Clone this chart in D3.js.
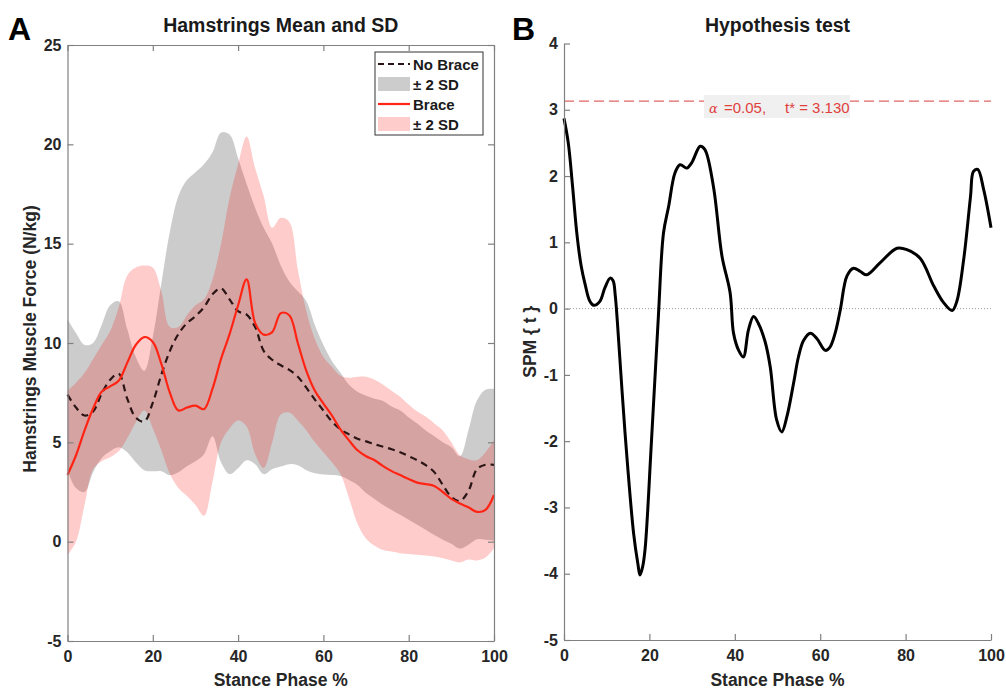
<!DOCTYPE html>
<html>
<head>
<meta charset="utf-8">
<script src="https://cdn.jsdelivr.net/npm/d3@7"></script>
<style>
  body { margin: 0; background: #fff; }
  text { font-family: Arial, "Liberation Sans", sans-serif; }
</style>
</head>
<body>
<svg id="chart" width="1006" height="690"></svg>
<script>
// stance phase grid (%) for panel A
const stance = [0, 2, 4, 6, 8, 10, 12, 14, 16, 18, 20, 22, 24, 26, 28, 30, 32, 34, 36, 38, 40,
  42, 44, 46, 48, 50, 52, 54, 56, 58, 60, 62, 64, 66, 68, 70, 72, 74, 76, 78, 80,
  82, 84, 86, 88, 90, 92, 94, 96, 98, 100];

const noBraceMean = [7.4, 6.75, 6.35, 6.55, 7.45, 8.15, 8.45, 7.2, 6.25, 6.05, 7.0, 8.4, 9.6, 10.45, 11.0, 11.35, 11.8, 12.45, 12.75, 12.2, 11.6,
  11.43, 10.8, 9.6, 9.15, 8.88, 8.65, 8.3, 7.75, 7.15, 6.6, 6.05, 5.65, 5.4, 5.18, 5.05, 4.9, 4.78, 4.65, 4.5, 4.3,
  4.1, 3.85, 3.5, 2.85, 2.25, 2.05, 2.55, 3.65, 3.87, 3.87];
const noBraceLow = [3.6, 2.7, 2.5, 3.5, 4.2, 4.55, 4.75, 4.5, 4.0, 3.6, 3.55, 3.55, 3.35, 3.5, 3.8, 4.05, 4.4, 5.3, 4.0, 3.4, 3.7,
  4.1, 3.9, 3.4, 3.65, 3.78, 3.9, 3.85, 3.6, 3.45, 3.38, 3.35, 3.3, 3.1, 2.85, 2.45, 2.15, 1.85, 1.6, 1.35, 1.1,
  0.85, 0.6, 0.33, 0.1, -0.1, -0.34, -0.15, 0.12, 0.1, 0.05];
const noBraceHigh = [11.2, 10.5, 9.9, 10.0, 10.9, 11.9, 12.1, 10.7, 9.3, 8.6, 10.3, 13.0, 15.6, 17.4, 18.2, 18.6, 19.0, 19.6, 20.6, 20.5, 19.3,
  18.0, 16.8, 15.8, 15.0, 13.9, 13.1, 12.6, 12.1, 10.9, 9.9, 9.1, 8.5, 7.9, 7.55, 7.35, 7.2, 7.08, 6.8, 6.6, 6.25,
  5.95, 5.6, 5.3, 5.0, 4.75, 4.3, 5.6, 7.1, 7.65, 7.7];

const braceMean = [3.36, 4.35, 5.6, 6.7, 7.55, 7.82, 8.1, 9.0, 9.9, 10.3, 10.05, 8.95, 7.5, 6.6, 6.75, 6.85, 6.67, 7.7, 9.2, 10.45, 11.9,
  13.2, 11.0, 10.42, 10.55, 11.5, 11.4, 10.0, 8.6, 7.6, 6.95, 6.35, 5.65, 5.1, 4.6, 4.3, 4.1, 3.8, 3.55, 3.35, 3.15,
  2.97, 2.9, 2.8, 2.5, 2.15, 1.92, 1.73, 1.5, 1.6, 2.35];
const braceLow = [-0.67, 0.0, 1.85, 3.65, 4.05, 4.25, 4.55, 5.2, 6.0, 6.6, 5.7, 4.6, 3.4, 2.7, 2.3, 1.85, 1.3, 3.0, 5.0, 5.7, 6.1,
  5.8, 4.4, 3.7, 5.0, 6.4, 6.5, 6.1, 5.6, 5.0, 4.5, 4.0, 3.4, 2.2, 0.9, 0.15, -0.2, -0.42, -0.5, -0.58, -0.62,
  -0.66, -0.7, -0.75, -0.84, -0.95, -1.05, -0.9, -0.95, -0.8, -0.35];
const braceHigh = [7.6, 8.0, 8.5, 9.2, 9.9, 10.6, 11.8, 13.4, 13.8, 13.9, 13.8, 12.6, 10.8, 10.8, 11.4, 11.9, 12.2, 13.2, 15.0, 17.3, 19.0,
  20.4, 18.8, 17.4, 15.8, 16.3, 16.1, 13.7, 11.6, 10.2, 9.3, 8.8, 8.35, 8.25, 8.3, 8.3, 8.15, 7.9, 7.6, 7.3, 6.9,
  6.55, 6.3, 5.95, 5.6, 5.0, 4.35, 4.15, 4.1, 4.5, 5.1];

// panel B: SPM{t} trajectory
const spmX = [0, 1, 2, 3, 4, 5, 6, 7, 8.4, 9.5, 10.8, 11.5, 12, 12.5, 14.3, 16.3, 17.3, 17.8, 18.4, 19,
  20.5, 22.1, 23.3, 24.5, 26, 27.2, 28.75, 29.9, 31.9, 33, 35, 37, 38.9, 39.7, 40.9, 42, 43.2, 44.4,
  45.5, 47.1, 48.3, 49.8, 51, 52.2, 53.75, 54.9, 56.1, 57.7, 59.2, 61.2, 62.3, 63.5, 64.7, 66.25,
  67.8, 69.4, 70.9, 74, 78, 80.3, 83.4, 86.6, 88.9, 90.9, 92, 93.6, 95.2, 95.9, 96.9, 98.3, 100];
const spmT = [2.87, 2.5, 1.85, 1.14, 0.65, 0.35, 0.12, 0.05, 0.11, 0.3, 0.46, 0.42, 0.2, -0.2, -1.88, -3.39, -3.85, -4.02, -3.9, -3.62,
  -1.98, -0.12, 1.14, 1.54, 2.05, 2.17, 2.12, 2.2, 2.45, 2.4, 1.84, 0.79, 0.24, -0.37, -0.63, -0.73, -0.32, -0.12,
  -0.22, -0.5, -0.88, -1.68, -1.86, -1.63, -1.13, -0.73, -0.48, -0.37, -0.45, -0.63, -0.58, -0.37, -0.02, 0.49,
  0.61, 0.56, 0.51, 0.69, 0.91, 0.89, 0.76, 0.34, 0.09, -0.03, 0.11, 0.74, 1.69, 2.07, 2.1, 1.79, 1.22];

const forceTicks = [-5, 0, 5, 10, 15, 20, 25];
const phaseTicks = [0, 20, 40, 60, 80, 100];
const spmTicks = [-5, -4, -3, -2, -1, 0, 1, 2, 3, 4];
const alphaLevel = 0.05;
const tCritical = 3.130;

const svg = d3.select('#chart');
svg.append('rect').attr('width', 1006).attr('height', 690).attr('fill', '#fff');

const axisColor = '#808080';
const labelColor = '#262626';
const plainNum = (d) => String(d); // keep ascii hyphen like the original

function styleAxis(g, showLabels) {
  g.select('.domain').attr('stroke', axisColor).attr('stroke-width', 1.2);
  g.selectAll('.tick line').attr('stroke', axisColor).attr('stroke-width', 1.2);
  g.selectAll('.tick text')
    .attr('fill', labelColor)
    .style('font-size', '16px')
    .style('font-weight', 'bold')
    .style('display', showLabels ? null : 'none');
}

// ---------- Panel A ----------
const xA = d3.scaleLinear().domain([0, 100]).range([67.5, 494]);
const yA = d3.scaleLinear().domain([-5, 25]).range([641, 45]);

const bandArea = (low, high) => d3.area()
  .x((d, i) => xA(stance[i]))
  .y0((d, i) => yA(low[i]))
  .y1((d, i) => yA(high[i]))
  .curve(d3.curveCatmullRom.alpha(0.5));

const panelA = svg.append('g');

panelA.append('path')
  .datum(stance)
  .attr('d', bandArea(noBraceLow, noBraceHigh))
  .attr('fill', '#808080')
  .attr('fill-opacity', 0.4);

panelA.append('path')
  .datum(stance)
  .attr('d', bandArea(braceLow, braceHigh))
  .attr('fill', '#ff0000')
  .attr('fill-opacity', 0.2);

const meanLine = (vals) => d3.line()
  .x((d, i) => xA(stance[i]))
  .y((d, i) => yA(vals[i]))
  .curve(d3.curveCatmullRom.alpha(0.5));

panelA.append('path')
  .datum(stance)
  .attr('d', meanLine(noBraceMean))
  .attr('fill', 'none')
  .attr('stroke', '#2a1414')
  .attr('stroke-width', 2.2)
  .attr('stroke-dasharray', '7,5');

panelA.append('path')
  .datum(stance)
  .attr('d', meanLine(braceMean))
  .attr('fill', 'none')
  .attr('stroke', '#ff2414')
  .attr('stroke-width', 2.2);

// box with inward ticks on all sides
panelA.append('g')
  .attr('transform', `translate(0,${yA(-5)})`)
  .call(d3.axisBottom(xA).tickValues(phaseTicks).tickFormat(plainNum).tickSizeInner(-6).tickSizeOuter(0).tickPadding(10))
  .call((g) => styleAxis(g, true));
panelA.append('g')
  .attr('transform', `translate(0,${yA(25)})`)
  .call(d3.axisTop(xA).tickValues(phaseTicks).tickSizeInner(-6).tickSizeOuter(0))
  .call((g) => styleAxis(g, false));
panelA.append('g')
  .attr('transform', `translate(${xA(0)},0)`)
  .call(d3.axisLeft(yA).tickValues(forceTicks).tickFormat(plainNum).tickSizeInner(-6).tickSizeOuter(0).tickPadding(6))
  .call((g) => styleAxis(g, true));
panelA.append('g')
  .attr('transform', `translate(${xA(100)},0)`)
  .call(d3.axisRight(yA).tickValues(forceTicks).tickSizeInner(-6).tickSizeOuter(0))
  .call((g) => styleAxis(g, false));

panelA.append('text')
  .text('Hamstrings Mean and SD')
  .attr('x', (xA(0) + xA(100)) / 2)
  .attr('y', 32)
  .attr('text-anchor', 'middle')
  .style('font-size', '19.5px')
  .style('font-weight', 'bold')
  .attr('fill', '#1a1a1a');

panelA.append('text')
  .text('Stance Phase %')
  .attr('x', (xA(0) + xA(100)) / 2)
  .attr('y', 686)
  .attr('text-anchor', 'middle')
  .style('font-size', '17.5px')
  .style('font-weight', 'bold')
  .attr('fill', labelColor);

panelA.append('text')
  .text('Hamstrings Muscle Force (N/kg)')
  .attr('transform', `translate(36,${(yA(-5) + yA(25)) / 2 - 4}) rotate(-90)`)
  .attr('text-anchor', 'middle')
  .style('font-size', '17.5px')
  .style('font-weight', 'bold')
  .attr('fill', labelColor);

panelA.append('text')
  .text('A')
  .attr('x', 8)
  .attr('y', 40)
  .style('font-size', '32px')
  .style('font-weight', 'bold')
  .attr('fill', '#000');

// legend
const legend = panelA.append('g');
legend.append('rect')
  .attr('x', 375).attr('y', 52).attr('width', 108).attr('height', 83)
  .attr('fill', '#fff').attr('stroke', '#333').attr('stroke-width', 1);

const legendRows = [
  { label: 'No Brace', kind: 'dash' },
  { label: '± 2 SD', kind: 'grey' },
  { label: 'Brace', kind: 'red' },
  { label: '± 2 SD', kind: 'pink' },
];
legendRows.forEach((row, i) => {
  const cy = 64 + i * 20;
  if (row.kind === 'dash') {
    legend.append('line').attr('x1', 378).attr('x2', 410).attr('y1', cy).attr('y2', cy)
      .attr('stroke', '#2a1414').attr('stroke-width', 2.2).attr('stroke-dasharray', '6,4');
  } else if (row.kind === 'red') {
    legend.append('line').attr('x1', 378).attr('x2', 410).attr('y1', cy).attr('y2', cy)
      .attr('stroke', '#ff2414').attr('stroke-width', 2.2);
  } else {
    legend.append('rect').attr('x', 378).attr('y', cy - 7).attr('width', 32).attr('height', 14)
      .attr('fill', row.kind === 'grey' ? '#808080' : '#ff0000')
      .attr('fill-opacity', row.kind === 'grey' ? 0.4 : 0.2);
  }
  legend.append('text')
    .text(row.label)
    .attr('x', 413)
    .attr('y', cy + 5.5)
    .style('font-size', '15px')
    .style('font-weight', 'bold')
    .attr('fill', '#1a1a1a');
});

// ---------- Panel B ----------
const xB = d3.scaleLinear().domain([0, 100]).range([564, 991]);
const yB = d3.scaleLinear().domain([-5, 4]).range([640, 43.5]);

const panelB = svg.append('g');

panelB.append('line')
  .attr('x1', xB(0)).attr('x2', xB(100))
  .attr('y1', yB(0)).attr('y2', yB(0))
  .attr('stroke', '#9a9a9a').attr('stroke-width', 1).attr('stroke-dasharray', '1,2');

panelB.append('line')
  .attr('x1', xB(0)).attr('x2', xB(100))
  .attr('y1', yB(tCritical)).attr('y2', yB(tCritical))
  .attr('stroke', '#e06464').attr('stroke-width', 1.2).attr('stroke-dasharray', '10,5');

panelB.append('rect')
  .attr('x', 704).attr('y', 95).attr('width', 146).attr('height', 23)
  .attr('fill', '#f0f0f0');

const thrLabel = panelB.append('text')
  .attr('y', 113)
  .attr('fill', '#e0403c')
  .style('font-size', '15px');
thrLabel.append('tspan').attr('x', 709).text('α')
  .style('font-family', '"DejaVu Serif", serif').style('font-style', 'italic').style('font-size', '13px');
thrLabel.append('tspan').attr('x', 724).text(`=${alphaLevel.toFixed(2)},`);
thrLabel.append('tspan').attr('x', 785).text(`t* = ${tCritical.toFixed(3)}`);

panelB.append('path')
  .datum(spmX)
  .attr('d', d3.line()
    .x((d) => xB(d))
    .y((d, i) => yB(spmT[i]))
    .curve(d3.curveCatmullRom.alpha(0.5)))
  .attr('fill', 'none')
  .attr('stroke', '#000')
  .attr('stroke-width', 3)
  .attr('stroke-linejoin', 'round');

panelB.append('g')
  .attr('transform', `translate(0,${yB(-5)})`)
  .call(d3.axisBottom(xB).tickValues(phaseTicks).tickFormat(plainNum).tickSizeInner(-6).tickSizeOuter(0).tickPadding(10))
  .call((g) => styleAxis(g, true));
panelB.append('g')
  .attr('transform', `translate(${xB(0)},0)`)
  .call(d3.axisLeft(yB).tickValues(spmTicks).tickFormat(plainNum).tickSizeInner(-6).tickSizeOuter(0).tickPadding(6))
  .call((g) => styleAxis(g, true));

panelB.append('text')
  .text('Hypothesis test')
  .attr('x', (xB(0) + xB(100)) / 2)
  .attr('y', 32)
  .attr('text-anchor', 'middle')
  .style('font-size', '19.5px')
  .style('font-weight', 'bold')
  .attr('fill', '#1a1a1a');

panelB.append('text')
  .text('Stance Phase %')
  .attr('x', (xB(0) + xB(100)) / 2)
  .attr('y', 686)
  .attr('text-anchor', 'middle')
  .style('font-size', '17.5px')
  .style('font-weight', 'bold')
  .attr('fill', labelColor);

panelB.append('text')
  .text('SPM { t }')
  .attr('transform', `translate(536,${(yB(-5) + yB(4)) / 2}) rotate(-90)`)
  .attr('text-anchor', 'middle')
  .style('font-size', '17.5px')
  .style('font-weight', 'bold')
  .attr('fill', labelColor);

panelB.append('text')
  .text('B')
  .attr('x', 512)
  .attr('y', 40)
  .style('font-size', '32px')
  .style('font-weight', 'bold')
  .attr('fill', '#000');
</script>
</body>
</html>
